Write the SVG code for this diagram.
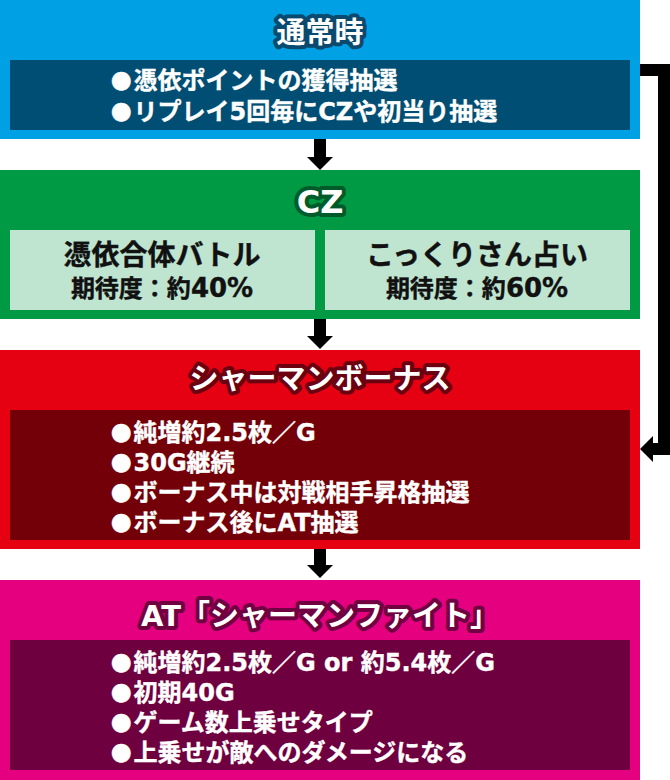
<svg xmlns="http://www.w3.org/2000/svg" width="670" height="780" viewBox="0 0 670 780">
<defs>
<style>
text{font-family:"DejaVu Sans","Noto Sans CJK JP","Noto Sans CJK SC",sans-serif;font-weight:bold}
.title{font-size:29px;fill:#fff;text-anchor:middle;stroke-width:8px;stroke-linejoin:round;paint-order:stroke fill}
.body{font-size:24px;fill:#fff;stroke:#fff;stroke-width:0.4px}
.b{font-family:"Noto Sans CJK JP","Noto Sans CJK SC",sans-serif;font-size:20.5px}
.sub{fill:#111;text-anchor:middle;stroke:#111;stroke-width:0.4px}
.s1{font-size:28px}
.s2{font-size:24px}
.big{font-size:26px}
.conn{fill:none;stroke:#000;stroke-width:12px;stroke-linejoin:miter}
</style>
<marker id="ah" viewBox="0 0 13 26" refX="0" refY="13" markerWidth="13" markerHeight="26" markerUnits="userSpaceOnUse" orient="auto">
<path d="M0,0 L13,13 L0,26 z" fill="#000"/>
</marker>
</defs>
<rect width="670" height="780" fill="#fff"/>

<g id="normal">
<rect x="0" y="0" width="640" height="139" fill="#00a0e4"/>
<rect x="10" y="60" width="620" height="70" fill="#004e74"/>
<text class="title" x="320" y="43" stroke="#0b4a6f">通常時</text>
<text class="body" x="111" y="89"><tspan class="b">●</tspan><tspan dx="2">憑依ポイントの獲得抽選</tspan></text>
<text class="body" x="111" y="120"><tspan class="b">●</tspan><tspan dx="2">リプレイ5回毎にCZや初当り抽選</tspan></text>
</g>

<g id="cz">
<rect x="0" y="170" width="640" height="149" fill="#009944"/>
<text class="title" x="320" y="213" style="font-size:32px" stroke="#005a2a">CZ</text>
<g id="cz-battle">
<rect x="10" y="230" width="305" height="80" fill="#bfe4d0"/>
<text class="sub s1" x="162" y="265">憑依合体バトル</text>
<text class="sub s2" x="162" y="297">期待度：約<tspan class="big">40%</tspan></text>
</g>
<g id="cz-kokkuri">
<rect x="325" y="230" width="305" height="80" fill="#bfe4d0"/>
<text class="sub s1" x="477" y="265">こっくりさん占い</text>
<text class="sub s2" x="477" y="297">期待度：約<tspan class="big">60%</tspan></text>
</g>
</g>

<g id="bonus">
<rect x="0" y="350" width="640" height="199" fill="#e50012"/>
<rect x="10" y="410" width="620" height="130" fill="#730008"/>
<text class="title" x="320" y="389" stroke="#6a0010">シャーマンボーナス</text>
<text class="body" x="111" y="441"><tspan class="b">●</tspan><tspan dx="2">純増約2.5枚／G</tspan></text>
<text class="body" x="111" y="471"><tspan class="b">●</tspan><tspan dx="2">30G継続</tspan></text>
<text class="body" x="111" y="501"><tspan class="b">●</tspan><tspan dx="2">ボーナス中は対戦相手昇格抽選</tspan></text>
<text class="body" x="111" y="531"><tspan class="b">●</tspan><tspan dx="2">ボーナス後にAT抽選</tspan></text>
</g>

<g id="at">
<rect x="0" y="580" width="640" height="200" fill="#e4007f"/>
<rect x="10" y="640" width="620" height="130" fill="#6f0040"/>
<text class="title" x="320" y="626" stroke="#700040">AT「シャーマンファイト」</text>
<text class="body" x="111" y="671"><tspan class="b">●</tspan><tspan dx="2">純増約2.5枚／G or 約5.4枚／G</tspan></text>
<text class="body" x="111" y="701"><tspan class="b">●</tspan><tspan dx="2">初期40G</tspan></text>
<text class="body" x="111" y="731"><tspan class="b">●</tspan><tspan dx="2">ゲーム数上乗せタイプ</tspan></text>
<text class="body" x="111" y="761"><tspan class="b">●</tspan><tspan dx="2">上乗せが敵へのダメージになる</tspan></text>
</g>

<g id="connectors">
<line class="conn" x1="320" y1="139" x2="320" y2="157" marker-end="url(#ah)"/>
<line class="conn" x1="320" y1="319" x2="320" y2="336" marker-end="url(#ah)"/>
<line class="conn" x1="320" y1="549" x2="320" y2="565" marker-end="url(#ah)"/>
<polyline class="conn" points="640,70 664,70 664,449 653,449" marker-end="url(#ah)"/>
</g>
</svg>
